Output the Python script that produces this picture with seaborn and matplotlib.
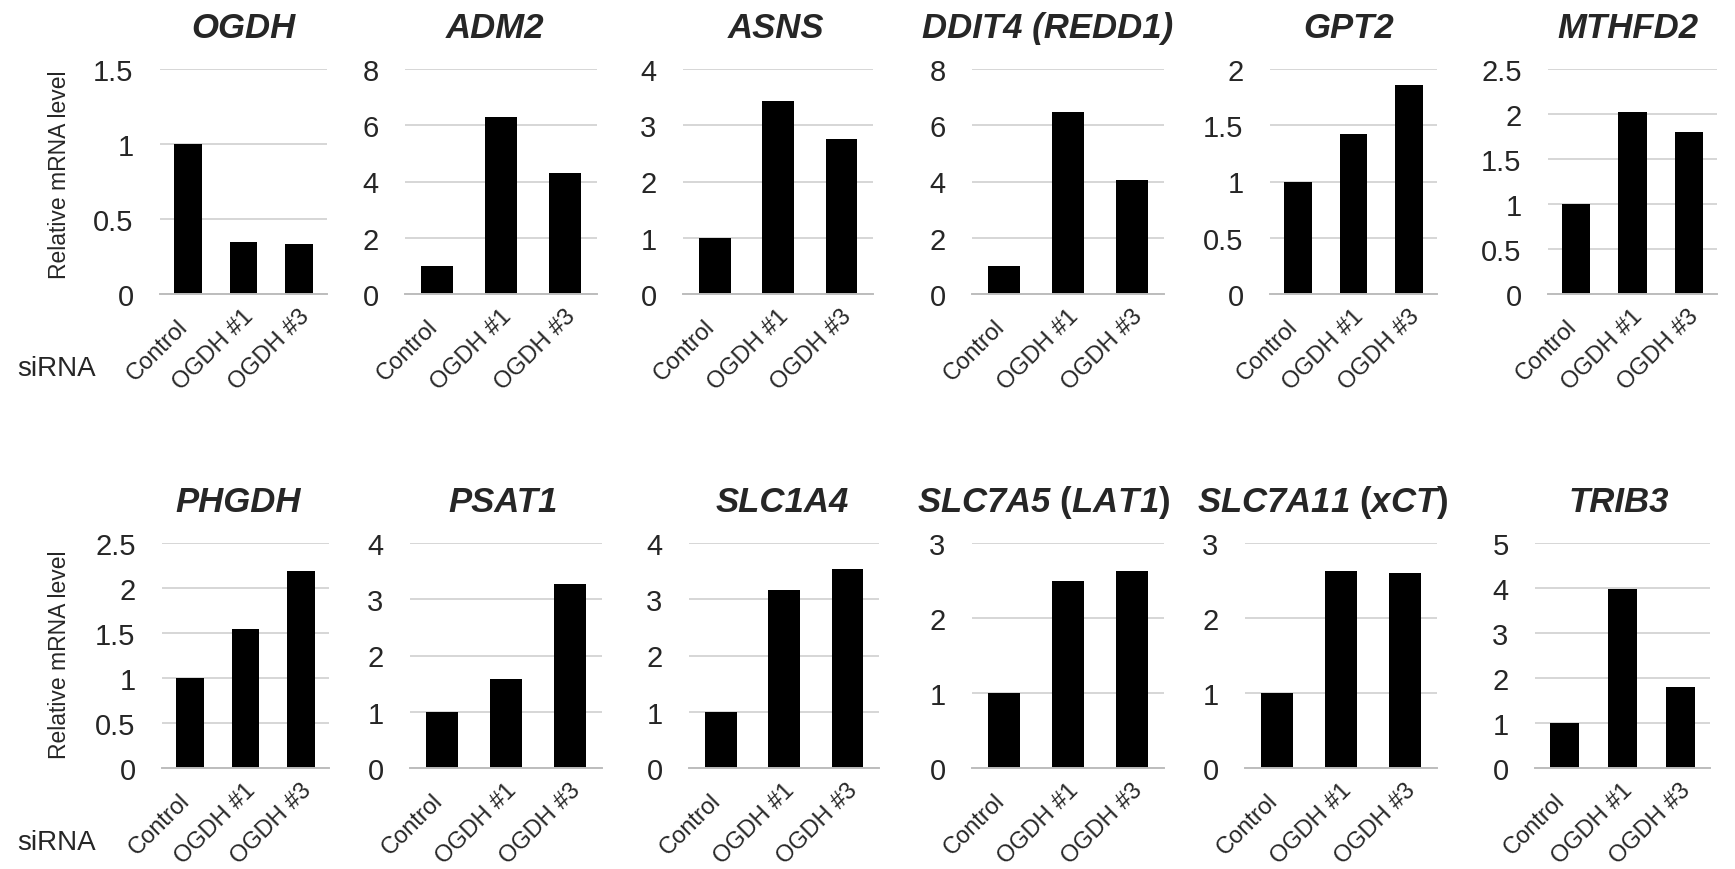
import matplotlib
matplotlib.use('Agg')
import matplotlib.pyplot as plt
import matplotlib.transforms as mtransforms
import seaborn as sns
import pandas as pd

sns.set_theme(style='white')
plt.rcParams['font.family'] = ['Liberation Sans', 'DejaVu Sans']
plt.rcParams['mathtext.fontset'] = 'custom'
plt.rcParams['mathtext.it'] = 'Liberation Sans:italic:bold'
plt.rcParams['mathtext.rm'] = 'Liberation Sans:italic:bold'
plt.rcParams['mathtext.bf'] = 'Liberation Sans:italic:bold'

# ---------------- data ----------------
sirna = ['Control', 'OGDH #1', 'OGDH #3']

titles = ['OGDH', 'ADM2', 'ASNS', 'DDIT4 (REDD1)', 'GPT2', 'MTHFD2',
          'PHGDH', 'PSAT1', 'SLC1A4', r'$\mathit{SLC7A5}$ ($\mathit{LAT1}$)',
          r'$\mathit{SLC7A11}$ ($\mathit{xCT}$)', 'TRIB3']
mixed_style = [False] * 9 + [True, True, False]

ogdh = [1.00, 0.345, 0.336]
adm2 = [1.00, 6.29, 4.29]
asns = [1.00, 3.44, 2.75]
ddit4 = [1.00, 6.46, 4.05]
gpt2 = [1.00, 1.42, 1.86]
mthfd2 = [1.00, 2.02, 1.80]
phgdh = [1.00, 1.54, 2.19]
psat1 = [1.00, 1.59, 3.28]
slc1a4 = [1.00, 3.17, 3.54]
slc7a5 = [1.00, 2.50, 2.63]
slc7a11 = [1.00, 2.63, 2.60]
trib3 = [1.00, 3.98, 1.80]
values = [ogdh, adm2, asns, ddit4, gpt2, mthfd2,
          phgdh, psat1, slc1a4, slc7a5, slc7a11, trib3]

y_max = [1.5, 8, 4, 8, 2, 2.5, 2.5, 4, 4, 3, 3, 5]
y_step = [0.5, 2, 1, 2, 0.5, 0.5, 0.5, 1, 1, 1, 1, 1]

ylabel_text = 'Relative mRNA level'
group_label = 'siRNA'

# ---------------- layout (pixels) ----------------
W, H = 1735, 870
row1_x = [(160, 327), (405, 597), (683, 873), (972, 1164), (1270, 1437), (1548, 1717)]
row2_x = [(162, 329), (410, 602), (689, 879), (972, 1164), (1245, 1437), (1535, 1710)]
row_y = [(70, 295), (544, 769)]
title_dx = [0, -6, -2, -20, -5, -5, -7, -3, -2, -24, -18, -4]

fig = plt.figure(figsize=(W / 100, H / 100), dpi=100)

grid_col = '#d6d6d6'
base_col = '#bdbdbd'

for i in range(12):
    r = i // 6
    x0, x1 = (row1_x if r == 0 else row2_x)[i % 6]
    yt, yb = row_y[r]
    ax = fig.add_axes([x0 / W, 1 - yb / H, (x1 - x0) / W, (yb - yt) / H])
    df = pd.DataFrame({'siRNA': sirna, 'level': values[i]})
    sns.barplot(data=df, x='siRNA', y='level', color='black', saturation=1,
                width=0.5, linewidth=0, ax=ax)
    ax.set_xlim(-0.5, 2.5)
    ax.set_ylim(0, y_max[i])
    n = int(round(y_max[i] / y_step[i]))
    ticks = [k * y_step[i] for k in range(n + 1)]
    ax.set_yticks(ticks)
    ax.set_yticklabels([f'{t:g}' for t in ticks], fontsize=21)
    ax.yaxis.grid(True, color=grid_col, lw=1.4)
    ax.set_axisbelow(True)
    for s in ['left', 'right', 'top']:
        ax.spines[s].set_visible(False)
    ax.spines['bottom'].set_color(base_col)
    ax.spines['bottom'].set_linewidth(1.4)
    ax.tick_params(axis='both', length=0)
    ax.tick_params(axis='y', pad=19)
    ax.tick_params(axis='x', pad=0)
    ax.set_xlabel('')
    ax.set_ylabel('')
    offset = mtransforms.ScaledTranslation(-0.30, -0.555, fig.dpi_scale_trans)
    for lab in ax.get_xticklabels():
        lab.set_rotation(45)
        lab.set_ha('center')
        lab.set_va('center')
        lab.set_rotation_mode('anchor')
        lab.set_fontsize(17)
        lab.set_transform(lab.get_transform() + offset)
    tx = 0.5 + title_dx[i] / (x1 - x0)
    if mixed_style[i]:
        ax.set_title(titles[i], fontsize=25, fontweight='bold', pad=23, x=tx)
    else:
        ax.set_title(titles[i], fontsize=25, fontweight='bold',
                     fontstyle='italic', pad=23, x=tx)

# shared labels for the first column
ylab_dy = [-8, -2]
for r, (yt, yb) in enumerate(row_y):
    fig.text(60 / W, 1 - ((yt + yb) / 2 + ylab_dy[r]) / H, ylabel_text,
             rotation=90, ha='center', va='center', fontsize=16.5)
    fig.text(17 / W, 1 - (yb + 74) / H, group_label, ha='left', va='center',
             fontsize=20)

fig.savefig('out.png', dpi=100, facecolor='white')
